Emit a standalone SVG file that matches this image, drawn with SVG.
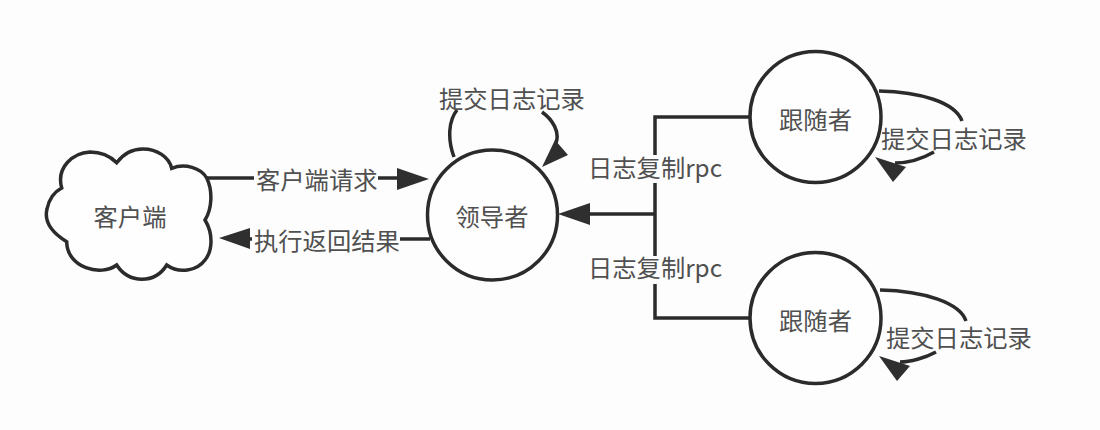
<svg xmlns="http://www.w3.org/2000/svg" width="1100" height="430" viewBox="0 0 1100 430">
<style>
text{font-family:"Noto Sans CJK SC","Liberation Sans",sans-serif;font-size:24.3px;fill:#505050}
.n{fill:#fefefe;stroke:#2b2b2b;stroke-width:3.5}
.c{fill:none;stroke:#2b2b2b;stroke-width:3.5}
.h{fill:#2f2f2f;stroke:none}
.b{fill:#fdfdfd;stroke:none}
</style>
<rect width="1100" height="430" fill="#fdfdfd"/>
<g id="connectors">
<path class="c" d="M207 178H400"/><path class="h" d="M397 168L429 179L397 190Z"/>
<path class="c" d="M430 239H248"/><path class="h" d="M250 228L219 238L250 249Z"/>
<path class="c" d="M750 117H655V318H750M655 214H590"/><path class="h" d="M590 203L558 214L590 225Z"/>
<path class="c" d="M454 157C447 138 449 120 457 110M542 112C553 120 560 132 556 143"/>
<path class="h" d="M555 140L568 155L542 167Z"/>
<path class="c" d="M879 91C920 92 955 102 962 121M934 152C920 160 905 163 895 163"/>
<path class="h" d="M875 157L906 167L893 182Z"/>
<path class="c" d="M880 290C925 291 960 303 966 321M936 352C925 358 910 362 900 362"/>
<path class="h" d="M879 356L910 366L897 381Z"/>
</g>
<g id="client"><path class="n" d="M116.700 162.700C124 153 134 149 143 149C157 149 169 157 171.700 168.300C185 163 201 168 206.700 178C213 191 212 209 205 220C213 233 213 250 205 260C197 271 179 274 166.700 265C155 284 129 284 116.700 265C101 277 67 268 66.700 241.700C51 232 44 221 47 209C49 199 54 192 61.700 188C56 167 73 153 90 152C100 152 110 156 116.700 162.700Z"/><text x="130" y="226" text-anchor="middle">客户端</text></g>
<g id="leader"><circle class="n" cx="492.500" cy="215" r="65"/><text x="492" y="226" text-anchor="middle">领导者</text></g>
<g id="follower1"><circle class="n" cx="815.500" cy="117" r="65.500"/><text x="815.500" y="129" text-anchor="middle">跟随者</text></g>
<g id="follower2"><circle class="n" cx="815.500" cy="318" r="65.500"/><text x="815.500" y="330" text-anchor="middle">跟随者</text></g>
<g id="labels">
<rect class="b" x="254" y="166" width="124" height="28"/><text x="256" y="189">客户端请求</text>
<rect class="b" x="252" y="228" width="148" height="28"/><text x="254" y="250">执行返回结果</text>
<rect class="b" x="588" y="155" width="134" height="28"/><text x="588" y="177">日志复制rpc</text>
<rect class="b" x="588" y="256" width="134" height="28"/><text x="588" y="277">日志复制rpc</text>
<text x="439" y="108">提交日志记录</text>
<text x="881" y="148">提交日志记录</text>
<text x="886" y="347">提交日志记录</text>
</g>
</svg>
